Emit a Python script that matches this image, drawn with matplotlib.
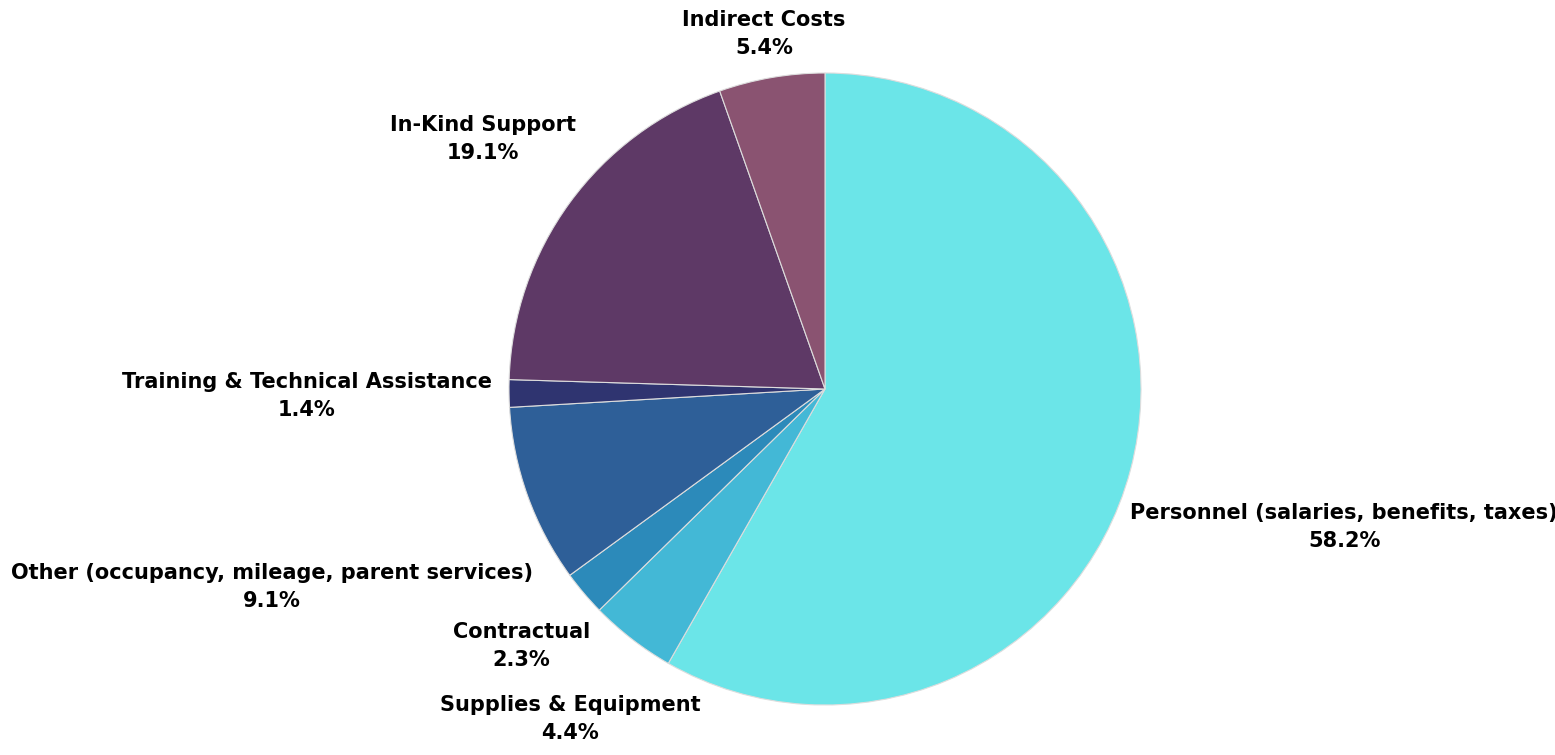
import matplotlib
matplotlib.use('Agg')
import matplotlib.pyplot as plt
import numpy as np

# budget categories, in clockwise order from the top
labels = ['Personnel (salaries, benefits, taxes)', 'Supplies & Equipment', 'Contractual',
          'Other (occupancy, mileage, parent services)', 'Training & Technical Assistance',
          'In-Kind Support', 'Indirect Costs']
shares = [58.2, 4.4, 2.3, 9.1, 1.4, 19.1, 5.4]
colors = ['#6BE5E8', '#43B8D6', '#2C8ABA', '#2E5F98', '#2F3470', '#5E3966', '#8A5371']
# how far out each label sits (in pie radii)
label_dist = [1.70, 1.32, 1.26, 1.86, 1.64, 1.34, 1.14]

fig = plt.figure(figsize=(15.55, 7.55), dpi=100)
ax = fig.add_axes([0.0, 0.0, 1.0, 1.0])

wedges, _ = ax.pie(shares, colors=colors, startangle=90, counterclock=False,
                   radius=1.0, center=(0, 0), frame=False,
                   wedgeprops={'linewidth': 0.8, 'edgecolor': '#dddddd'})
ax.set_xlim(-825 / 316, (1555 - 825) / 316)
ax.set_ylim(-(755 - 389) / 316, 389 / 316)
ax.set_aspect('equal')
ax.axis('off')

for w, lab, s, d in zip(wedges, labels, shares, label_dist):
    mid = np.deg2rad((w.theta1 + w.theta2) / 2)
    ax.text(d * np.cos(mid), d * np.sin(mid), f'{lab}\n{s}%', ha='center', va='center',
            fontsize=15, fontweight='bold', family=['DejaVu Sans'],
            linespacing=1.5, color='black')

fig.savefig('out.png', dpi=100)
